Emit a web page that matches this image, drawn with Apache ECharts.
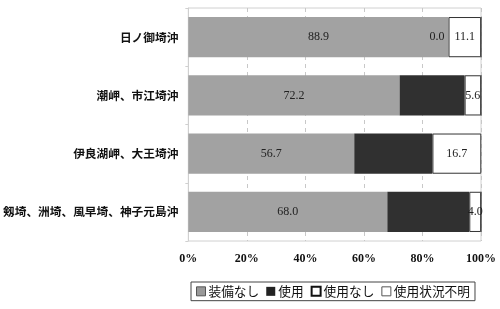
<!DOCTYPE html>
<html><head><meta charset="utf-8">
<script src="https://cdn.jsdelivr.net/npm/echarts@6/dist/echarts.min.js"></script>
<style>html,body{margin:0;padding:0;background:#fff}#c{width:500px;height:309px}</style>
</head><body><div id="c"></div>
<script>
const categories = ['日ノ御埼沖', '潮岬、市江埼沖', '伊良湖岬、大王埼沖', '剱埼、洲埼、風早埼、神子元島沖'];
const seriesNames = ['装備なし', '使用', '使用なし', '使用状況不明'];
const noEquip = [88.9, 72.2, 56.7, 68.0];
const used = [0.0, 22.2, 26.7, 28.0];
const notUsed = [11.1, 5.6, 16.7, 4.0];
const unknown = [0, 0, 0, 0];
const xTicks = [0, 20, 40, 60, 80, 100];

const chart = echarts.init(document.getElementById('c'), null, {renderer: 'canvas'});
const serif = '"Liberation Serif", "DejaVu Serif", serif';
const cjk = '"Noto Sans CJK JP", sans-serif';
chart.setOption({
  animation: false,
  backgroundColor: '#fff',
  grid: {left: 188, right: 19, top: 8, bottom: 68, show: true, borderColor: '#d0d0d0', borderWidth: 1},
  xAxis: {
    type: 'value', min: xTicks[0], max: xTicks[xTicks.length - 1], interval: 20,
    axisLine: {show: false}, axisTick: {show: false},
    splitLine: {show: true, lineStyle: {color: '#c8c8c8', type: [4, 4]}},
    axisLabel: {formatter: '{value}%', fontFamily: serif, fontWeight: 'bold', fontSize: 12, color: '#111', margin: 12}
  },
  yAxis: {
    type: 'category', data: categories, inverse: true,
    axisLine: {show: true, lineStyle: {color: '#d0d0d0'}},
    axisTick: {show: true, length: 3, lineStyle: {color: '#d0d0d0'}},
    axisLabel: {fontFamily: cjk, fontWeight: 'bold', fontSize: 11.7, color: '#111', margin: 10}
  },
  legend: {
    top: 282, left: 191, padding: [3, 5], itemGap: 7,
    borderColor: '#444', borderWidth: 1,
    itemWidth: 9, itemHeight: 9,
    textStyle: {fontFamily: cjk, fontSize: 12.7, color: '#111', padding: [0, 0, 0, -2]},
    data: [
      {name: seriesNames[0], icon: 'rect', itemStyle: {color: '#999', borderColor: '#555', borderWidth: 1}},
      {name: seriesNames[1], icon: 'rect', itemStyle: {color: '#222'}},
      {name: seriesNames[2], icon: 'rect', itemStyle: {color: '#fff', borderColor: '#111', borderWidth: 2}},
      {name: seriesNames[3], icon: 'rect', itemStyle: {color: '#fff', borderColor: '#555', borderWidth: 1}}
    ]
  },
  series: [
    {name: seriesNames[0], type: 'bar', stack: 's', data: noEquip, barCategoryGap: '31%',
     itemStyle: {color: '#a2a2a2'},
     label: {show: true, position: 'inside', formatter: p => p.value.toFixed(1), fontFamily: serif, fontSize: 12, color: '#222'}},
    {name: seriesNames[1], type: 'bar', stack: 's',
     data: used.map((v, i) => ({value: v, label: {show: i === 0}})),
     itemStyle: {color: '#303030'},
     label: {position: 'left', distance: 4, formatter: p => p.value.toFixed(1), fontFamily: serif, fontSize: 12, color: '#222'}},
    {name: seriesNames[2], type: 'bar', stack: 's', data: notUsed,
     itemStyle: {color: '#fff', borderColor: '#333', borderWidth: 1},
     label: {show: true, position: 'inside', formatter: p => p.value.toFixed(1), fontFamily: serif, fontSize: 12, color: '#222'}},
    {name: seriesNames[3], type: 'bar', stack: 's', data: unknown,
     itemStyle: {color: '#fff', borderColor: '#555', borderWidth: 1}}
  ]
});
</script></body></html>
